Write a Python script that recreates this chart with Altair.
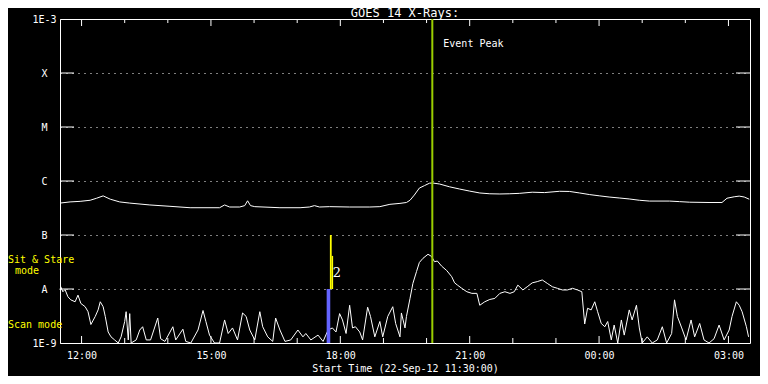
import altair as alt
import pandas as pd

FONT = "DejaVu Sans Mono"
START = pd.Timestamp("2012-09-22 11:30:00")
TITLE = "GOES 14 X-Rays:"

def stamp(minutes):
    return (START + pd.Timedelta(minutes=float(minutes))).strftime("%Y-%m-%dT%H:%M:%S")

# ---- GOES 14 long channel (1-8 A), minutes after start / flux W m^-2
long_min = [0, 14, 28, 42, 51, 60, 70, 83, 97, 125, 153, 181, 222, 229, 236, 250, 257, 261, 265, 271,
            306, 334, 347, 354, 361, 375, 403, 431, 445, 459, 473, 482, 487, 493, 500, 507, 514, 518, 528, 542,
            556, 570, 584, 598, 612, 625, 639, 657, 674, 695, 709, 723, 737, 751, 764, 778, 792, 806, 820, 848,
            862, 876, 903, 921, 928, 938, 945, 952, 959]
long_flux = [3.9e-7, 4.1e-7, 4.2e-7, 4.4e-7, 4.8e-7, 5.3e-7, 4.6e-7, 4.1e-7, 3.9e-7, 3.6e-7,
             3.4e-7, 3.2e-7, 3.2e-7, 3.6e-7, 3.3e-7, 3.3e-7, 3.5e-7, 4.3e-7, 3.5e-7, 3.35e-7,
             3.2e-7, 3.2e-7, 3.3e-7, 3.5e-7, 3.3e-7, 3.35e-7, 3.3e-7, 3.3e-7, 3.35e-7, 3.7e-7,
             3.85e-7, 4.0e-7, 4.4e-7, 5.5e-7, 7.4e-7, 8.2e-7, 9.1e-7, 9.2e-7, 8.8e-7, 7.8e-7,
             7.1e-7, 6.5e-7, 6.0e-7, 5.8e-7, 5.75e-7, 5.8e-7, 5.9e-7, 6.2e-7, 6.1e-7, 6.45e-7,
             6.4e-7, 6.0e-7, 5.6e-7, 5.3e-7, 5.05e-7, 4.85e-7, 4.65e-7, 4.4e-7, 4.25e-7, 4.25e-7,
             4.15e-7, 4.05e-7, 4.0e-7, 4.0e-7, 4.8e-7, 5.1e-7, 5.25e-7, 5.05e-7, 4.6e-7]

# ---- GOES 14 short channel (0.5-4 A)
short_min = [0, 1, 4, 7, 11, 15, 21, 25, 29, 35, 39, 43, 49, 53, 56, 60, 63, 67, 71, 76,
             81, 85, 90, 92, 95, 97, 99, 106, 111, 115, 120, 126, 136, 140, 146, 157, 161, 171, 175, 182,
             192, 199, 203, 208, 215, 222, 229, 234, 240, 247, 254, 259, 264, 271, 278, 282, 289, 296, 300, 306,
             313, 321, 331, 338, 342, 349, 359, 366, 373, 379, 384, 389, 393, 398, 403, 407, 411, 417, 421, 428,
             432, 438, 445, 449, 456, 463, 467, 473, 475, 480, 482, 487, 491, 496, 500, 505, 512, 517, 521, 525,
             531, 538, 545, 549, 553, 559, 566, 573, 580, 584, 591, 598, 605, 612, 619, 626, 632, 637, 644, 650,
             657, 664, 671, 678, 685, 692, 699, 706, 713, 720, 726, 730, 734, 739, 744, 748, 753, 758, 762, 767,
             771, 776, 781, 785, 792, 796, 802, 806, 810, 817, 824, 831, 838, 844, 851, 855, 859, 865, 871, 878,
             883, 890, 896, 903, 910, 917, 924, 931, 935, 941, 945, 949, 955, 958]
short_flux = [9.6e-9, 1.1e-8, 8.9e-9, 9.8e-9, 7.2e-9, 6.3e-9, 5.8e-9, 7.7e-9, 5.4e-9, 4.7e-9,
              3.8e-9, 2.2e-9, 3.1e-9, 4.1e-9, 5.8e-9, 4.7e-9, 3.1e-9, 1.6e-9, 1.3e-9, 1.14e-9,
              1.0e-9, 1.3e-9, 2.5e-9, 3.8e-9, 1.14e-9, 3.5e-9, 1.0e-9, 1.14e-9, 1.74e-9, 2.0e-9,
              1.14e-9, 1.14e-9, 2.9e-9, 1.2e-9, 1.07e-9, 2.0e-9, 1.14e-9, 1.8e-9, 1.07e-9, 1.0e-9,
              1.74e-9, 4.0e-9, 2.5e-9, 1.4e-9, 1.0e-9, 1.0e-9, 2.67e-9, 1.5e-9, 1.9e-9, 1.14e-9,
              3.6e-9, 3.1e-9, 1.74e-9, 1.14e-9, 3.8e-9, 2.0e-9, 1.3e-9, 1.07e-9, 2.9e-9, 1.74e-9,
              1.07e-9, 1.14e-9, 1.74e-9, 1.3e-9, 1.5e-9, 1.14e-9, 1.4e-9, 1.07e-9, 1.74e-9, 1.9e-9,
              1.6e-9, 3.5e-9, 2.67e-9, 1.5e-9, 5.0e-9, 1.9e-9, 2.0e-9, 1.6e-9, 1.14e-9, 4.6e-9,
              3.1e-9, 1.3e-9, 2.5e-9, 1.3e-9, 3.1e-9, 4.7e-9, 2.3e-9, 1.3e-9, 3.6e-9, 1.9e-9,
              3.1e-9, 6.7e-9, 1.27e-8, 2.1e-8, 3.1e-8, 3.7e-8, 4.4e-8, 4.0e-8, 3.2e-8, 3.3e-8,
              2.65e-8, 2.2e-8, 1.69e-8, 1.3e-8, 1.18e-8, 1.03e-8, 8.9e-9, 8.3e-9, 8.3e-9, 5.0e-9,
              5.8e-9, 6.4e-9, 6.7e-9, 8.3e-9, 8.9e-9, 8.3e-9, 8.9e-9, 1.18e-8, 9.6e-9, 1.1e-8,
              1.3e-8, 1.37e-8, 1.47e-8, 1.27e-8, 1.1e-8, 1.03e-8, 9.6e-9, 9.6e-9, 1.03e-8, 9.6e-9,
              8.9e-9, 2.25e-9, 4.4e-9, 4.1e-9, 5.8e-9, 3.8e-9, 2.3e-9, 2.0e-9, 2.5e-9, 1.14e-9,
              2.15e-9, 1.0e-9, 2.67e-9, 1.4e-9, 4.1e-9, 2.67e-9, 5.0e-9, 1.9e-9, 1.0e-9, 1.3e-9,
              1.0e-9, 1.14e-9, 2.0e-9, 1.0e-9, 1.5e-9, 6.3e-9, 3.1e-9, 1.9e-9, 1.14e-9, 2.67e-9,
              1.3e-9, 2.3e-9, 1.14e-9, 1.0e-9, 1.2e-9, 2.15e-9, 1.14e-9, 1.74e-9, 3.1e-9, 5.8e-9,
              5.0e-9, 3.8e-9, 2.0e-9, 1.3e-9]

# ---- flare class levels
class_levels = [1e-9, 1e-8, 1e-7, 1e-6, 1e-5, 1e-4, 1e-3]
class_labels = ["1E-9", "A", "B", "C", "M", "X", "1E-3"]

# ---- time ticks (hours of day)
tick_hours_day1 = [12, 13, 14, 15, 16, 17, 18, 19, 20, 21, 22, 23]
tick_hours_day2 = [0, 1, 2, 3]
label_hours = [12, 15, 18, 21, 0, 3]

# ---- event peak and observing-mode bars
event_peak_min = [518]
event_label = ["Event Peak"]
event_label_flux = [3.03e-4]

mode_names = ["Scan", "Sit & Stare", "Sit & Stare"]
mode_start_min = [371, 375.5, 378]
mode_end_min = [376, 378, 380]
mode_low = [1e-9, 1e-8, 1e-8]
mode_high = [1e-8, 1e-7, 4.1e-8]
mode_colors = ["#6464ff", "#ffff00", "#ffff00"]

mode_number = ["2"]
mode_number_min = [379.5]
mode_number_flux = [1.67e-8]

side_labels = ["Sit & Stare", "mode", "Scan mode"]
side_flux = [3.07e-8, 1.9e-8, 1.9e-9]

# ---------------- tables
long_df = pd.DataFrame({"t": [stamp(m) for m in long_min], "f": long_flux})
short_df = pd.DataFrame({"t": [stamp(m) for m in short_min], "f": short_flux})
tick_times = ([f"2012-09-22T{h:02d}:00:00" for h in tick_hours_day1] +
              [f"2012-09-23T{h:02d}:00:00" for h in tick_hours_day2])
tick_major = [int(s[11:13]) % 3 == 0 for s in tick_times]
ticks_df = pd.DataFrame({"t": tick_times, "major": tick_major})
major_df = ticks_df[ticks_df.major]
minor_df = ticks_df[~ticks_df.major]
levels_df = pd.DataFrame({"f": class_levels[1:-1]})
peak_df = pd.DataFrame({"t": [stamp(m) for m in event_peak_min], "label": event_label,
                        "f": event_label_flux})
mode_df = pd.DataFrame({"t0": [stamp(m) for m in mode_start_min],
                        "t1": [stamp(m) for m in mode_end_min],
                        "lo": mode_low, "hi": mode_high, "name": mode_names,
                        "color": mode_colors})
num_df = pd.DataFrame({"t": [stamp(m) for m in mode_number_min], "label": mode_number,
                       "f": mode_number_flux})
side_df = pd.DataFrame({"label": side_labels, "f": side_flux})
title_df = pd.DataFrame({"label": [TITLE]})

label_expr = "".join(
    f"datum.value < {lv * 1.5} ? '{lb}' : " for lv, lb in zip(class_levels, class_labels)
) + "''"

x_scale = alt.Scale(domain=[alt.DateTime(year=2012, month=9, date=22, hours=11, minutes=30),
                            alt.DateTime(year=2012, month=9, date=23, hours=3, minutes=30)])
y_scale = alt.Scale(type="log", domain=[1e-9, 1e-3], nice=False)

x_axis = alt.Axis(values=[alt.DateTime(year=2012, month=9, date=22 if h >= 12 else 23, hours=h)
                          for h in label_hours],
                  format="%H:%M", ticks=False, domain=False, grid=False,
                  labelPadding=7, labelFlush=False,
                  title="Start Time (22-Sep-12 11:30:00)", titlePadding=3)
y_axis = alt.Axis(values=class_levels, labelExpr=label_expr, ticks=False, domain=False,
                  grid=True, gridColor="white", gridDash=[1, 5], gridOpacity=1,
                  labelAlign="center", labelPadding=16, labelFlush=True,
                  labelBaseline="middle", title=None)


def X(f="t:T"):
    return alt.X(f, scale=x_scale, axis=x_axis)


def Y(f="f:Q"):
    return alt.Y(f, scale=y_scale, axis=y_axis)


short_line = alt.Chart(short_df).mark_line(color="white", strokeWidth=1).encode(x=X(), y=Y())
long_line = alt.Chart(long_df).mark_line(color="white", strokeWidth=1).encode(x=X(), y=Y())

left_ticks = alt.Chart(levels_df).mark_rule(color="white").encode(
    y=Y(), x=alt.value(0), x2=alt.value(14))
right_ticks = alt.Chart(levels_df).mark_rule(color="white").encode(
    y=Y(), x=alt.value(676), x2=alt.value(690))
top_major = alt.Chart(major_df).mark_rule(color="white").encode(
    x=X(), y=alt.value(0), y2=alt.value(7))
top_minor = alt.Chart(minor_df).mark_rule(color="white").encode(
    x=X(), y=alt.value(0), y2=alt.value(4))
bot_major = alt.Chart(major_df).mark_rule(color="white").encode(
    x=X(), y=alt.value(324), y2=alt.value(317))
bot_minor = alt.Chart(minor_df).mark_rule(color="white").encode(
    x=X(), y=alt.value(324), y2=alt.value(319))

mode_bars = alt.Chart(mode_df).mark_rect().encode(
    x=X("t0:T"), x2="t1:T", y=Y("lo:Q"), y2="hi:Q",
    color=alt.Color("color:N", scale=None),
)
num_text = alt.Chart(num_df).mark_text(
    color="white", font="DejaVu Serif", fontSize=13, align="left", baseline="alphabetic"
).encode(x=X(), y=Y(), text="label:N")

peak_rule = alt.Chart(peak_df).mark_rule(color="#9acd00", strokeWidth=2).encode(x=X())
peak_text = alt.Chart(peak_df).mark_text(
    color="white", font=FONT, fontSize=10, align="left", baseline="alphabetic", dx=11
).encode(x=X(), y=Y(), text="label:N")

side1 = alt.Chart(side_df.iloc[[0]]).mark_text(
    color="#ffff00", font=FONT, fontSize=10, align="left", baseline="alphabetic"
).encode(x=alt.value(-52), y=Y(), text="label:N")
side2 = alt.Chart(side_df.iloc[[1]]).mark_text(
    color="#ffff00", font=FONT, fontSize=10, align="left", baseline="alphabetic"
).encode(x=alt.value(-45), y=Y(), text="label:N")
side3 = alt.Chart(side_df.iloc[[2]]).mark_text(
    color="#ffff00", font=FONT, fontSize=10, align="left", baseline="alphabetic"
).encode(x=alt.value(-52), y=Y(), text="label:N")

title_text = alt.Chart(title_df).mark_text(
    color="white", font=FONT, fontSize=12, align="center", baseline="top"
).encode(x=alt.value(345), y=alt.value(-11), text="label:N")

chart = alt.layer(
    short_line, long_line, left_ticks, right_ticks, top_major, top_minor, bot_major, bot_minor,
    mode_bars, num_text, peak_rule, peak_text, side1, side2, side3, title_text,
).properties(
    width=690, height=324,
    padding={"left": 52, "top": 11, "right": 10, "bottom": 33},
    autosize=alt.AutoSizeParams(type="none"),
).configure(
    background="black"
).configure_view(
    stroke="white", strokeWidth=1
).configure_axis(
    labelColor="white", titleColor="white", labelFont=FONT, titleFont=FONT,
    labelFontSize=10, titleFontSize=10, titleFontWeight="normal",
)

chart.save("out.html", embed_options={"renderer": "svg", "actions": False})
